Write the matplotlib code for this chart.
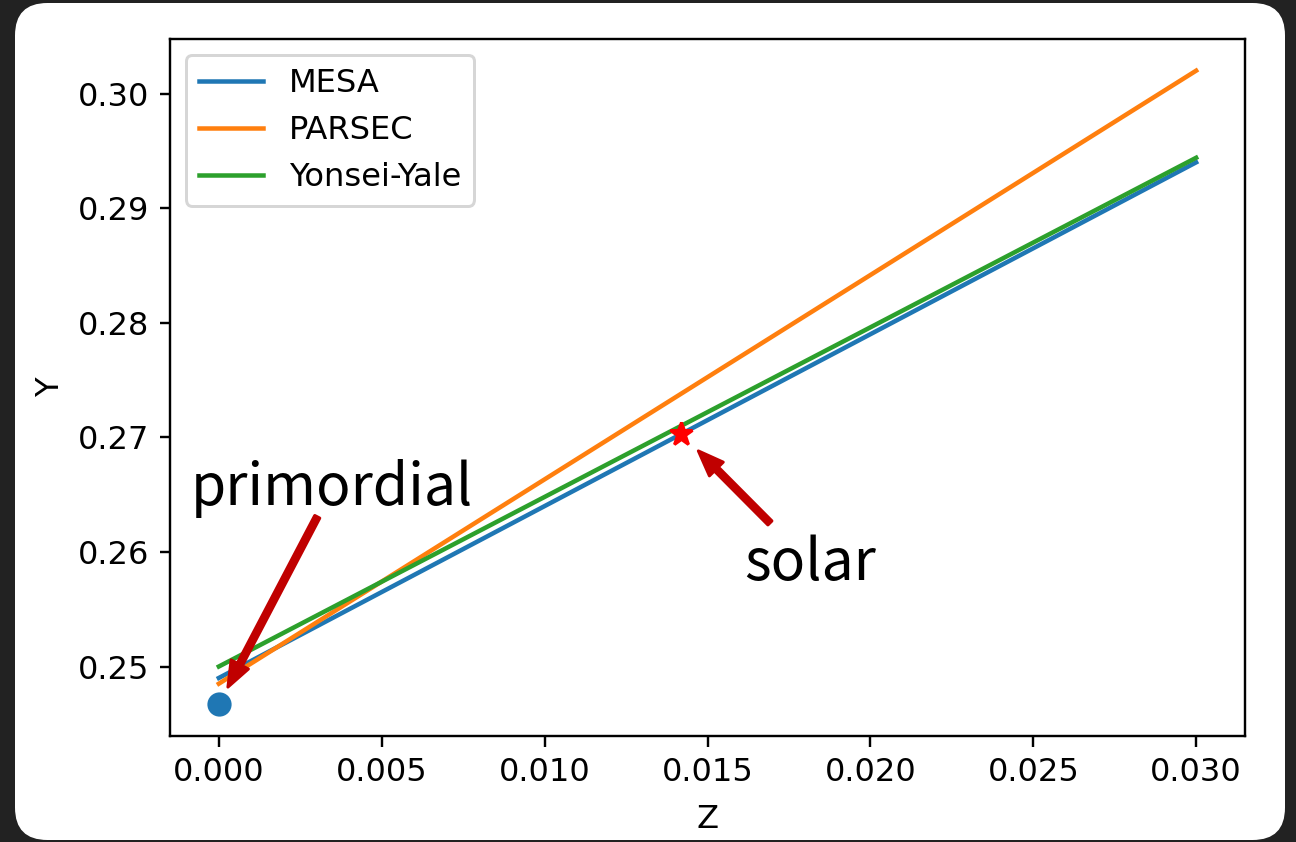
import numpy as np
import matplotlib
matplotlib.use("Agg")
from matplotlib import pyplot as plt
from matplotlib.patches import FancyBboxPatch

# endpoints of Y(Z) relations
z = [0.0, 0.030]
y_mesa = [0.2490, 0.2940]
y_parsec = [0.2485, 0.3020]
y_yy = [0.2500, 0.2944]

z_primordial, y_primordial = 0.0, 0.2467
z_solar, y_solar = 0.0142, 0.2703

dpi = 216
plt.rcParams['font.size'] = 10.7
fig = plt.figure(figsize=(1296 / dpi, 842 / dpi), dpi=dpi, facecolor='#222222')

# white rounded card behind the plot (screenshot frame)
card = FancyBboxPatch((15 / 1296, 2 / 842), 1270 / 1296, 837 / 842,
                      boxstyle="round,pad=0,rounding_size=0.025",
                      transform=fig.transFigure, facecolor='white',
                      edgecolor='none', zorder=-10,
                      mutation_aspect=1296 / 842)
fig.patches.append(card)

ax = fig.add_axes([170 / 1296, 1 - 736 / 842, 1075 / 1296, 697 / 842])

ax.plot(z, y_mesa, label='MESA')
ax.plot(z, y_parsec, label='PARSEC')
ax.plot(z, y_yy, label='Yonsei-Yale')
ax.scatter([z_primordial], [y_primordial], s=50, color='C0', zorder=3)
ax.plot([z_solar], [y_solar], marker='*', color='red', markersize=8, zorder=4)

arrow_col = '#c00000'
ann_font = ['Noto Sans CJK SC', 'DejaVu Sans']
astyle = 'simple,head_length=0.85,head_width=0.65,tail_width=0.19'
ax.annotate('primordial', xy=(z_primordial, y_primordial), xytext=(0.00347, 0.2655),
            ha='center', va='center', fontsize=19, family=ann_font, fontweight='light',
            arrowprops=dict(arrowstyle=astyle, color=arrow_col, mutation_scale=10,
                            patchA=None, shrinkA=10.5, shrinkB=6.5))
ax.annotate('solar', xy=(z_solar, y_solar), xytext=(0.01815, 0.2590),
            ha='center', va='center', fontsize=19, family=ann_font, fontweight='light',
            arrowprops=dict(arrowstyle=astyle, color=arrow_col, mutation_scale=10,
                            patchA=None, shrinkA=19, shrinkB=8))

ax.set_xlabel('Z', labelpad=5.5)
ax.set_ylabel('Y')
ax.legend(loc='upper left')

fig.savefig('out.png', dpi=dpi, facecolor=fig.get_facecolor())
